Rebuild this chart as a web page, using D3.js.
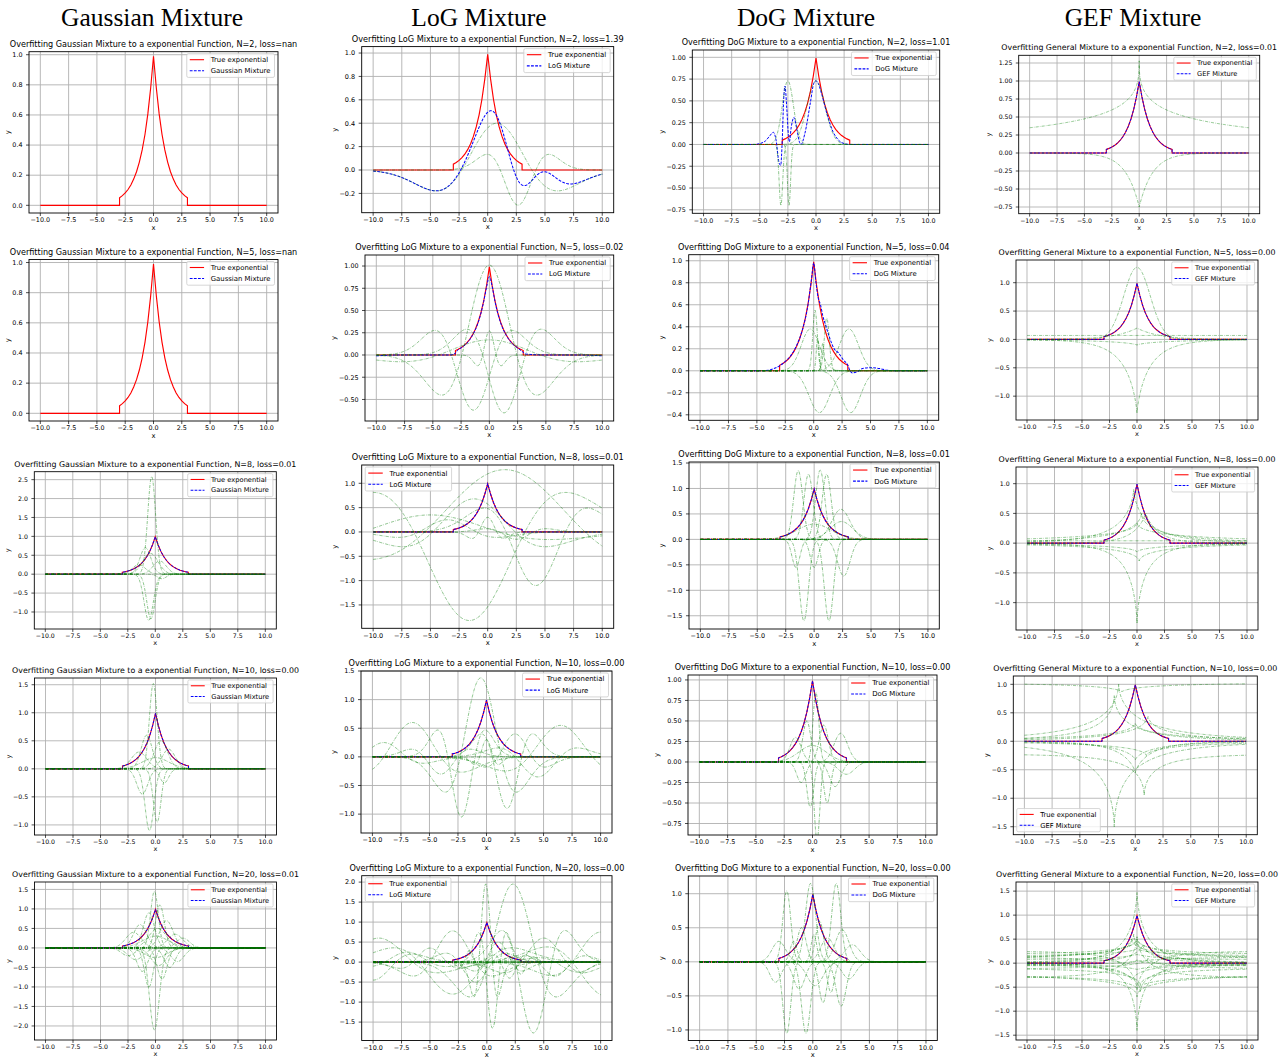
<!DOCTYPE html>
<html>
<head>
<meta charset="utf-8">
<script src="https://cdnjs.cloudflare.com/ajax/libs/d3/7.8.5/d3.min.js"></script>
<style>
  body { margin: 0; background: #fff; }
  svg { display: block; }
</style>
</head>
<body>
<svg id="fig" width="1287" height="1060"></svg>
<script>
// ---- data ----
var columnTitles = ["Gaussian Mixture", "LoG Mixture", "DoG Mixture", "GEF Mixture"];
var titleKinds = ["Gaussian", "LoG", "DoG", "General"];
var legendLabels = ["Gaussian Mixture", "LoG Mixture", "DoG Mixture", "GEF Mixture"];
var componentCounts = [2, 5, 8, 10, 20];
var losses = [
    ["nan", "1.39", "1.01", "0.01"],
    ["nan", "0.02", "0.04", "0.00"],
    ["0.01", "0.01", "0.01", "0.00"],
    ["0.00", "0.00", "0.00", "0.00"],
    ["0.01", "0.00", "0.00", "0.00"]
];
var xTicks = [-10, -7.5, -5, -2.5, 0, 2.5, 5, 7.5, 10];

// true (truncated) exponential, read at 0.25 steps
var trueX = [-10, -3, -3, -2.75, -2.5, -2.25, -2, -1.75, -1.5, -1.25, -1, -0.75, -0.5, -0.25, 0,
    0.25, 0.5, 0.75, 1, 1.25, 1.5, 1.75, 2, 2.25, 2.5, 2.75, 3, 3, 10];
var trueY = [0, 0, 0.05, 0.064, 0.082, 0.105, 0.135, 0.174, 0.223, 0.287, 0.368, 0.472, 0.607, 0.779, 0.99,
    0.779, 0.607, 0.472, 0.368, 0.287, 0.223, 0.174, 0.135, 0.105, 0.082, 0.064, 0.05, 0, 0];

var yDomains = [
    [[-0.051, 1.02], [-0.365, 1.055], [-0.79, 1.084], [-0.843, 1.357]],
    [[-0.051, 1.02], [-0.742, 1.124], [-0.45, 1.055], [-1.42, 1.40]],
    [[-1.45, 2.71], [-1.98, 1.376], [-1.76, 1.52], [-1.46, 1.28]],
    [[-1.18, 1.62], [-1.33, 1.5], [-0.89, 1.06], [-1.64, 1.146]],
    [[-2.36, 1.69], [-1.96, 2.16], [-1.155, 1.26], [-1.6, 1.69]]
];
var yTicks = [
    [[0, 0.2, 0.4, 0.6, 0.8, 1.0], [-0.2, 0, 0.2, 0.4, 0.6, 0.8, 1.0], [-0.75, -0.5, -0.25, 0, 0.25, 0.5, 0.75, 1.0], [-0.75, -0.5, -0.25, 0, 0.25, 0.5, 0.75, 1.0, 1.25]],
    [[0, 0.2, 0.4, 0.6, 0.8, 1.0], [-0.5, -0.25, 0, 0.25, 0.5, 0.75, 1.0], [-0.4, -0.2, 0, 0.2, 0.4, 0.6, 0.8, 1.0], [-1.0, -0.5, 0, 0.5, 1.0]],
    [[-1.0, -0.5, 0, 0.5, 1.0, 1.5, 2.0, 2.5], [-1.5, -1.0, -0.5, 0, 0.5, 1.0], [-1.5, -1.0, -0.5, 0, 0.5, 1.0, 1.5], [-1.0, -0.5, 0, 0.5, 1.0]],
    [[-1.0, -0.5, 0, 0.5, 1.0, 1.5], [-1.0, -0.5, 0, 0.5, 1.0, 1.5], [-0.75, -0.5, -0.25, 0, 0.25, 0.5, 0.75, 1.0], [-1.5, -1.0, -0.5, 0, 0.5, 1.0]],
    [[-2.0, -1.5, -1.0, -0.5, 0, 0.5, 1.0, 1.5], [-1.5, -1.0, -0.5, 0, 0.5, 1.0, 1.5, 2.0], [-1.0, -0.5, 0, 0.5, 1.0], [-1.5, -1.0, -0.5, 0, 0.5, 1.0, 1.5]]
];
var yDecimals = [[1, 1, 2, 2], [1, 2, 1, 1], [1, 1, 1, 1], [1, 1, 2, 1], [1, 1, 1, 1]];
var legendCorners = [
    ["ur", "ur", "ur", "ur"],
    ["ur", "ur", "ur", "ur"],
    ["ur", "ul", "ur", "ur"],
    ["ur", "ur", "ur", "ll"],
    ["ur", "ul", "ur", "ur"]
];
// how the mixture curve is drawn: none (nan), true (on top of target), sum of components, or readings
var fitModes = [
    ["none", "sum", "dog2", "true"],
    ["none", "log5", "dog5", "true"],
    ["true", "true", "true", "true"],
    ["true", "true", "true", "true"],
    ["true", "true", "true", "true"]
];
var fitDog2 = [[-10, 0], [-5.5, 0], [-5, 0.01], [-4.5, 0.04], [-4.1, 0.1], [-3.8, 0.14], [-3.55, 0.05], [-3.3, -0.2],
    [-3.14, -0.24], [-3.0, 0.05], [-2.88, 0.5], [-2.76, 0.67], [-2.6, 0.42], [-2.45, 0.1], [-2.37, 0.03], [-2.2, 0.2],
    [-1.96, 0.31], [-1.7, 0.17], [-1.45, 0.02], [-1.33, 0.0], [-1.0, 0.12], [-0.5, 0.48], [-0.2, 0.7], [0, 0.73],
    [0.2, 0.7], [0.5, 0.58], [1, 0.34], [1.5, 0.15], [2, 0.05], [2.5, 0.01], [3, 0], [10, 0]];
var fitLog5 = [[-10, -0.01], [-8, 0], [-5, 0], [-3.5, 0], [-3, 0.02], [-2.75, 0.06], [-2.5, 0.08], [-2, 0.13],
    [-1.5, 0.22], [-1, 0.36], [-0.5, 0.6], [-0.25, 0.76], [0, 0.88], [0.25, 0.77], [0.5, 0.6], [1, 0.36],
    [1.5, 0.22], [2, 0.13], [2.5, 0.08], [3, 0.03], [3.25, 0.01], [5, 0], [8, 0], [10, -0.01]];
var fitDog5 = [[-10, 0], [-5, 0], [-4, 0.005], [-3.5, 0.02], [-3, 0.045], [-2.5, 0.085], [-2, 0.14], [-1.5, 0.23],
    [-1, 0.37], [-0.5, 0.6], [-0.2, 0.83], [0, 0.98], [0.2, 0.8], [0.4, 0.66], [0.6, 0.6], [0.8, 0.5], [1.1, 0.4],
    [1.4, 0.3], [1.8, 0.2], [2.2, 0.16], [2.6, 0.1], [3.0, 0.05], [3.2, 0.0], [3.4, -0.02], [3.8, -0.01],
    [4.3, 0.02], [5, 0.028], [5.8, 0.02], [6.5, 0.005], [7.5, 0], [10, 0]];

// fitted components: g = gaussian [a, mu, sigma], r = LoG [a, mu, sigma], e = GEF [a, mu, s, p, offset]
var compsG2 = [];
var compsL2 = [["r", 0.4, 0.8, 3.06], ["r", -0.3, 2.65, 1.56]];
var compsD2 = [["g", 0.73, 0, 0.8], ["g", 0.73, -2.5, 0.5], ["g", -0.7, -3.12, 0.16], ["g", -0.7, -2.4, 0.14]];
var compsE2 = [["e", 1.28, 0, 5.1, 0.384, 0], ["e", -0.75, 0, 1.22, 1, 0]];

var compsG5 = [];
var compsL5 = [["r", 1.01, 0, 2.43], ["r", -0.62, -1.4, 1.97], ["r", -0.65, 1.3, 1.9], ["r", 0.17, 0, 4.5], ["r", 0.27, 0, 0.6]];
var compsD5 = [["g", 0.38, -0.3, 0.8], ["g", -0.38, 0.5, 0.9], ["g", 0.55, 0.12, 0.2], ["g", 0.48, 1.15, 0.22],
    ["g", 0.38, 3.1, 0.85], ["g", -0.38, 3.25, 0.85], ["g", 0.3, 0.35, 0.12], ["g", 0.25, 0.8, 0.12]];
var compsE5 = [["e", 1.27, 0, 1.7, 2, 0], ["e", -1.3, 0, 1.2, 0.8, 0], ["e", 0, 0, 1, 1, 0.07],
    ["e", -0.1, 0, 3, 0.7, 0], ["e", 0.2, 0, 2, 1, 0]];

var compsG8 = [["g", 2.58, -0.33, 0.36], ["g", -1.22, -0.6, 0.42], ["g", -1.18, -0.4, 0.38], ["g", 0.7, -0.9, 0.5],
    ["g", 0.55, -0.45, 0.7], ["g", 0.35, 0.4, 0.6], ["g", 0.25, -1.5, 0.6], ["g", -0.12, 0.6, 0.4]];
var compsL8 = [["r", 1.28, 1.5, 7], ["r", -1.1, 4.2, 2.6], ["r", -1.82, -1.6, 4.85], ["r", 0.68, -1.2, 3.6],
    ["r", 0.3, 0, 0.8], ["r", 0.25, -3.5, 2.5], ["r", -0.15, 2.5, 1.5], ["r", 0.35, -5, 6]];
var compsD8 = [["g", 1.35, -1.4, 0.4], ["g", 1.28, -0.5, 0.4], ["g", 1.36, 0.53, 0.4], ["g", 1.28, 1.1, 0.4],
    ["g", -1.6, -0.9, 0.4], ["g", -1.6, 1.3, 0.4], ["g", -0.55, -1.6, 0.35], ["g", -0.55, 0.0, 0.35],
    ["g", -0.72, 2.6, 0.55], ["g", 0.59, 2.35, 0.8], ["g", 0.35, 2.4, 1.0], ["g", 0.3, 0, 1.5]];
var compsE8 = [["e", -1.35, 0, 0.9, 0.7, 0], ["e", 0.9, -0.3, 1.4, 0.7, 0], ["e", 0.5, 0.4, 2, 0.6, 0],
    ["e", -0.3, 0.2, 2.5, 0.6, 0], ["e", 0.35, 0, 4, 0.5, 0], ["e", 0, 0, 1, 1, 0.04],
    ["e", -0.15, 0, 3, 0.6, 0], ["e", 0.5, 0.8, 1.2, 0.9, 0]];

var compsG10 = [["g", 1.52, -0.2, 0.35], ["g", -1.1, -0.55, 0.4], ["g", -0.95, 0.15, 0.35], ["g", 0.6, -0.8, 0.5],
    ["g", 0.5, 0.5, 0.6], ["g", -0.45, -1.2, 0.5], ["g", 0.35, 1.2, 0.6], ["g", -0.25, 0.8, 0.4],
    ["g", 0.3, -1.5, 0.7], ["g", 0.2, 0.0, 1.2]];
var compsL10 = [["r", 1.38, -0.5, 1.8], ["r", -1.05, -2.2, 1.2], ["r", -0.9, 1.8, 1.3], ["r", 0.6, -6.5, 2.5],
    ["r", 0.55, 6.5, 2.8], ["r", 0.4, 2.5, 1.5], ["r", -0.35, 4.5, 2.0], ["r", 0.3, 0, 0.6],
    ["r", -0.3, -4, 1.5], ["r", 0.25, -9, 2]];
var compsD10 = [["g", 0.85, 0.3, 0.25], ["g", -0.95, 0.4, 0.25], ["g", 0.5, -0.5, 0.35], ["g", -0.55, -0.2, 0.3],
    ["g", 0.45, 1.0, 0.4], ["g", -0.5, 1.3, 0.3], ["g", 0.3, -1.5, 0.5], ["g", -0.3, 2.0, 0.5],
    ["g", 0.35, 2.5, 0.6], ["g", -0.25, -1.0, 0.4], ["g", 0.2, 0.0, 1.2], ["g", -0.15, 3.0, 0.7]];
var compsE10 = [["e", -0.15, -1.2, 3, 0.7, 1.02], ["e", 1.0, -1.5, 2.2, 0.6, 0], ["e", 0.8, -1.9, 1.5, 0.6, 0],
    ["e", -1.5, -1.9, 1.6, 0.6, 0], ["e", -0.73, 0.8, 1.2, 0.6, -0.22], ["e", 0.45, 1.15, 2, 0.6, 0],
    ["e", -0.33, 0, 2, 0.7, 0], ["e", -0.55, 0, 1.5, 0.8, 0], ["e", 0.3, 0, 2.5, 0.6, 0.02], ["e", -0.25, 1, 3, 0.6, 0]];

var compsG20 = [["g", 1.45, -0.1, 0.35], ["g", -2.1, -0.1, 0.45], ["g", 1.1, 0.4, 0.4], ["g", -1.0, -0.6, 0.4],
    ["g", 0.9, -0.6, 0.5], ["g", -0.8, 0.6, 0.45], ["g", 0.7, 1.0, 0.6], ["g", -0.6, -1.2, 0.5],
    ["g", 0.6, -1.4, 0.6], ["g", -0.5, 1.3, 0.5], ["g", 0.5, 0.2, 0.8], ["g", -0.45, 0.3, 0.7],
    ["g", 0.4, -2, 0.7], ["g", -0.35, 2, 0.6], ["g", 0.35, 1.8, 0.7], ["g", -0.3, -1.8, 0.7],
    ["g", 0.3, 0, 1.2], ["g", -0.25, 0, 1.0], ["g", 0.25, 2.5, 0.6], ["g", -0.2, -2.5, 0.6]];
var compsL20 = [["r", 1.95, 2.3, 2.2], ["r", -1.77, 4.1, 1.6], ["r", 1.95, -0.1, 0.6], ["r", -1.65, 0.5, 0.7],
    ["r", 0.6, -9.5, 3], ["r", 0.75, 10, 2.5], ["r", -0.85, 10.5, 3], ["r", -0.45, -10, 2],
    ["r", -0.8, -3, 3], ["r", 0.78, -3, 2], ["r", 0.6, 5, 2], ["r", -0.5, -1, 1.5],
    ["r", 0.5, 1, 1.2], ["r", -0.4, 2, 0.8], ["r", 0.35, -5, 1.5], ["r", -0.35, 6, 1.5],
    ["r", 0.3, -1.5, 0.5], ["r", -0.3, 3, 0.6], ["r", 0.25, -7, 2], ["r", -0.25, 8, 2]];
var compsD20 = [["g", 1.04, -2.3, 0.35], ["g", -1.05, -2.3, 0.35], ["g", 1.15, -0.2, 0.45], ["g", -1.05, -0.6, 0.4],
    ["g", 1.15, 2.07, 0.4], ["g", -0.65, 2.5, 0.45], ["g", 0.47, 2.6, 0.6], ["g", -0.4, -1.2, 0.5],
    ["g", 0.5, -1, 0.4], ["g", 0.6, 0.6, 0.35], ["g", -0.6, 0.9, 0.35], ["g", 0.35, 1.3, 0.6],
    ["g", -0.35, 0.2, 0.7], ["g", 0.3, -3, 0.6], ["g", -0.3, -3.3, 0.5], ["g", 0.25, 3.5, 0.7],
    ["g", -0.25, 3.2, 0.6], ["g", 0.4, 0.1, 0.25], ["g", -0.45, 1.6, 0.3], ["g", 0.3, -1.7, 0.3]];
var compsE20 = [["e", 1.47, 0, 1.0, 0.7, 0], ["e", -1.4, 0, 0.8, 0.7, 0], ["e", 0.3, 0, 2, 0.6, 0.18],
    ["e", 0.4, -0.5, 2, 0.6, 0.1], ["e", -0.35, 0.3, 2, 0.6, -0.1], ["e", 0.5, 0, 3, 0.5, 0.05],
    ["e", -0.5, 0, 3, 0.5, -0.2], ["e", 0.2, 0, 4, 0.5, 0.12], ["e", -0.25, 0, 2, 0.7, -0.28],
    ["e", 0.6, -0.3, 1.5, 0.6, 0], ["e", -0.6, 0.3, 1.5, 0.6, 0], ["e", 0.35, 0.5, 1.2, 0.8, 0.02],
    ["e", -0.3, -0.5, 1.2, 0.8, -0.05], ["e", 0.25, 1, 3, 0.5, -0.15], ["e", -0.2, -1, 3, 0.5, 0.15],
    ["e", 0.15, 0, 5, 0.5, -0.08], ["e", 0.8, 0, 1.2, 0.7, -0.3], ["e", -0.8, 0, 1.2, 0.7, 0.25],
    ["e", 0.1, 0, 2, 1, 0.08], ["e", -0.1, 0, 2, 1, -0.03]];

var panelComps = [
    [compsG2, compsL2, compsD2, compsE2],
    [compsG5, compsL5, compsD5, compsE5],
    [compsG8, compsL8, compsD8, compsE8],
    [compsG10, compsL10, compsD10, compsE10],
    [compsG20, compsL20, compsD20, compsE20]
];
var fitReadings = { dog2: fitDog2, log5: fitLog5, dog5: fitDog5 };

// ---- layout: axes frame [left, top, right, bottom] of each small figure ----
var panelBoxes = [
    [[29, 51.7, 278, 213], [361.7, 46.6, 613.7, 212.7], [692.3, 50, 939.7, 213.3], [1018.7, 55.3, 1259.7, 213.7]],
    [[29, 259.5, 278, 421], [365, 255, 613.7, 421], [688.7, 254.7, 938.7, 420.3], [1016, 260, 1258, 420]],
    [[34.3, 471.7, 276.3, 629], [361.7, 465, 613.7, 628.3], [689, 462, 939.3, 629], [1016, 467, 1258, 630]],
    [[34.5, 678, 276.5, 835], [361, 671, 612, 833], [688, 675, 937, 835], [1013.3, 676, 1257.3, 834.7]],
    [[34.5, 882, 276.5, 1040], [361.7, 875.7, 612, 1040.5], [688.3, 876, 937.3, 1040.5], [1016, 882, 1258, 1040]]
];
var headerCenters = [152, 479, 806, 1133];
var fonte = "DejaVu Sans";

function valorComponente(cp, xv) {
    var u;
    if (cp[0] === "g") {
        u = (xv - cp[2]) / cp[3];
        return cp[1] * Math.exp(-0.5 * u * u);
    }
    if (cp[0] === "r") {
        u = (xv - cp[2]) / cp[3];
        return cp[1] * (1 - u * u) * Math.exp(-0.5 * u * u);
    }
    u = Math.abs(xv - cp[2]) / cp[3];
    return cp[5] + cp[1] * Math.exp(-Math.pow(u, cp[4]));
}

var gradeX = d3.range(0, 1001).map(function (i) { return -10 + i * 0.02; });
var svg = d3.select("#fig");

// column headers
svg.selectAll("text.header")
    .data(columnTitles)
    .enter()
    .append("text")
    .attr("class", "header")
    .attr("x", function (d, i) { return headerCenters[i]; })
    .attr("y", 26)
    .attr("text-anchor", "middle")
    .style("font-family", "Liberation Serif")
    .style("font-size", "25.5px")
    .text(function (d) { return d; });

function desenharPainel(r, c) {
    var box = panelBoxes[r][c];
    var k = (box[2] - box[0]) / 249;
    var x = d3.scaleLinear().domain([-11, 11]).range([box[0], box[2]]);
    var y = d3.scaleLinear().domain(yDomains[r][c]).range([box[3], box[1]]);
    var g = svg.append("g");
    var clipId = "clip" + r + "_" + c;

    g.append("clipPath").attr("id", clipId)
        .append("rect")
        .attr("x", box[0]).attr("y", box[1])
        .attr("width", box[2] - box[0]).attr("height", box[3] - box[1]);

    // grid
    g.selectAll("line.gx").data(xTicks).enter().append("line")
        .attr("x1", function (d) { return x(d); }).attr("x2", function (d) { return x(d); })
        .attr("y1", box[1]).attr("y2", box[3])
        .attr("stroke", "#b0b0b0").attr("stroke-width", 0.9 * k);
    g.selectAll("line.gy").data(yTicks[r][c]).enter().append("line")
        .attr("y1", function (d) { return y(d); }).attr("y2", function (d) { return y(d); })
        .attr("x1", box[0]).attr("x2", box[2])
        .attr("stroke", "#b0b0b0").attr("stroke-width", 0.9 * k);

    var linha = d3.line().x(function (d) { return x(d[0]); }).y(function (d) { return y(d[1]); });
    var plot = g.append("g").attr("clip-path", "url(#" + clipId + ")");
    var verdade = trueX.map(function (v, i) { return [v, trueY[i]]; });

    plot.append("path").attr("d", linha(verdade))
        .attr("fill", "none").attr("stroke", "#ff0000").attr("stroke-width", 1.15 * k);

    var comps = panelComps[r][c];
    var modo = fitModes[r][c];
    var ajuste = null;
    if (modo === "true") {
        ajuste = linha(verdade);
    } else if (modo === "sum") {
        ajuste = linha(gradeX.map(function (xv) {
            return [xv, d3.sum(comps, function (cp) { return valorComponente(cp, xv); })];
        }));
    } else if (fitReadings[modo]) {
        ajuste = linha.curve(d3.curveMonotoneX)(fitReadings[modo]);
        linha.curve(d3.curveLinear);
    }
    if (ajuste) {
        plot.append("path").attr("d", ajuste)
            .attr("fill", "none").attr("stroke", "#0000ff").attr("stroke-width", 1.0 * k)
            .attr("stroke-dasharray", (2.8 * k) + "," + (1.3 * k));
    }

    comps.forEach(function (cp) {
        plot.append("path")
            .attr("d", linha(gradeX.map(function (xv) { return [xv, valorComponente(cp, xv)]; })))
            .attr("fill", "none").attr("stroke", "#008000").attr("stroke-opacity", 0.55)
            .attr("stroke-width", 0.85 * k)
            .attr("stroke-dasharray", [3.2 * k, 1.2 * k, 0.6 * k, 1.2 * k].join(","));
    });

    // frame
    g.append("rect")
        .attr("x", box[0]).attr("y", box[1])
        .attr("width", box[2] - box[0]).attr("height", box[3] - box[1])
        .attr("fill", "none").attr("stroke", "#000").attr("stroke-width", 0.9 * k);

    // ticks and tick labels
    var tam = 6.4 * k;
    g.selectAll("line.tx").data(xTicks).enter().append("line")
        .attr("x1", function (d) { return x(d); }).attr("x2", function (d) { return x(d); })
        .attr("y1", box[3]).attr("y2", box[3] + 3 * k)
        .attr("stroke", "#000").attr("stroke-width", 0.7 * k);
    g.selectAll("text.tx").data(xTicks).enter().append("text")
        .attr("x", function (d) { return x(d); })
        .attr("y", box[3] + 9.3 * k)
        .attr("text-anchor", "middle")
        .style("font-family", fonte).style("font-size", tam + "px")
        .text(function (d) { return d3.format(".1f")(d); });

    var fy = d3.format("." + yDecimals[r][c] + "f");
    g.selectAll("line.ty").data(yTicks[r][c]).enter().append("line")
        .attr("y1", function (d) { return y(d); }).attr("y2", function (d) { return y(d); })
        .attr("x1", box[0]).attr("x2", box[0] - 3 * k)
        .attr("stroke", "#000").attr("stroke-width", 0.7 * k);
    var rotulosY = g.selectAll("text.ty").data(yTicks[r][c]).enter().append("text")
        .attr("x", box[0] - 6.5 * k)
        .attr("y", function (d) { return y(d) + 2.3 * k; })
        .attr("text-anchor", "end")
        .style("font-family", fonte).style("font-size", tam + "px")
        .text(function (d) { return fy(d); });
    var larguraMax = 0;
    rotulosY.each(function () { larguraMax = Math.max(larguraMax, this.getComputedTextLength()); });

    // axis labels
    g.append("text")
        .attr("x", (box[0] + box[2]) / 2).attr("y", Math.min(box[3] + 16.5 * k, 1057))
        .attr("text-anchor", "middle")
        .style("font-family", fonte).style("font-size", (6.8 * k) + "px")
        .text("x");
    var ly = (box[1] + box[3]) / 2;
    var lx = box[0] - larguraMax - 9 * k;
    g.append("text")
        .attr("transform", "translate(" + lx + "," + ly + ") rotate(-90)")
        .attr("text-anchor", "middle")
        .style("font-family", fonte).style("font-size", (6.8 * k) + "px")
        .text("y");

    // title
    g.append("text")
        .attr("x", (box[0] + box[2]) / 2).attr("y", box[1] - 5 * k)
        .attr("text-anchor", "middle")
        .style("font-family", fonte).style("font-size", (8.1 * k) + "px")
        .text("Overfitting " + titleKinds[c] + " Mixture to a exponential Function, N=" +
            componentCounts[r] + ", loss=" + losses[r][c]);

    // legend
    var itens = [
        { cor: "#ff0000", tracejado: null, texto: "True exponential" },
        { cor: "#0000ff", tracejado: (2.8 * k) + "," + (1.3 * k), texto: legendLabels[c] }
    ];
    var leg = g.append("g");
    var caixa = leg.append("rect");
    var textos = leg.selectAll("text").data(itens).enter().append("text")
        .attr("x", 24 * k)
        .attr("y", function (d, i) { return 8.4 * k + i * 11 * k; })
        .style("font-family", fonte).style("font-size", (6.9 * k) + "px")
        .text(function (d) { return d.texto; });
    var larguraTexto = 0;
    textos.each(function () { larguraTexto = Math.max(larguraTexto, this.getComputedTextLength()); });
    leg.selectAll("line").data(itens).enter().append("line")
        .attr("x1", 3 * k).attr("x2", 17.3 * k)
        .attr("y1", function (d, i) { return 6 * k + i * 11 * k; })
        .attr("y2", function (d, i) { return 6 * k + i * 11 * k; })
        .attr("stroke", function (d) { return d.cor; })
        .attr("stroke-width", 1.1 * k)
        .attr("stroke-dasharray", function (d) { return d.tracejado; });
    var lw = 24 * k + larguraTexto + 4 * k;
    var lh = 23.7 * k;
    caixa.attr("width", lw).attr("height", lh).attr("rx", 1.5 * k)
        .attr("fill", "#fff").attr("fill-opacity", 0.8)
        .attr("stroke", "#cccccc").attr("stroke-width", 0.8 * k);
    var canto = legendCorners[r][c];
    var tx, ty;
    if (canto === "ur") { tx = box[2] - 3.5 * k - lw; ty = box[1] + 2 * k; }
    else if (canto === "ul") { tx = box[0] + 3.5 * k; ty = box[1] + 2 * k; }
    else { tx = box[0] + 3.5 * k; ty = box[3] - 3 * k - lh; }
    leg.attr("transform", "translate(" + tx + "," + ty + ")");
}

for (var r = 0; r < 5; r++) {
    for (var c = 0; c < 4; c++) {
        desenharPainel(r, c);
    }
}
</script>
</body>
</html>
